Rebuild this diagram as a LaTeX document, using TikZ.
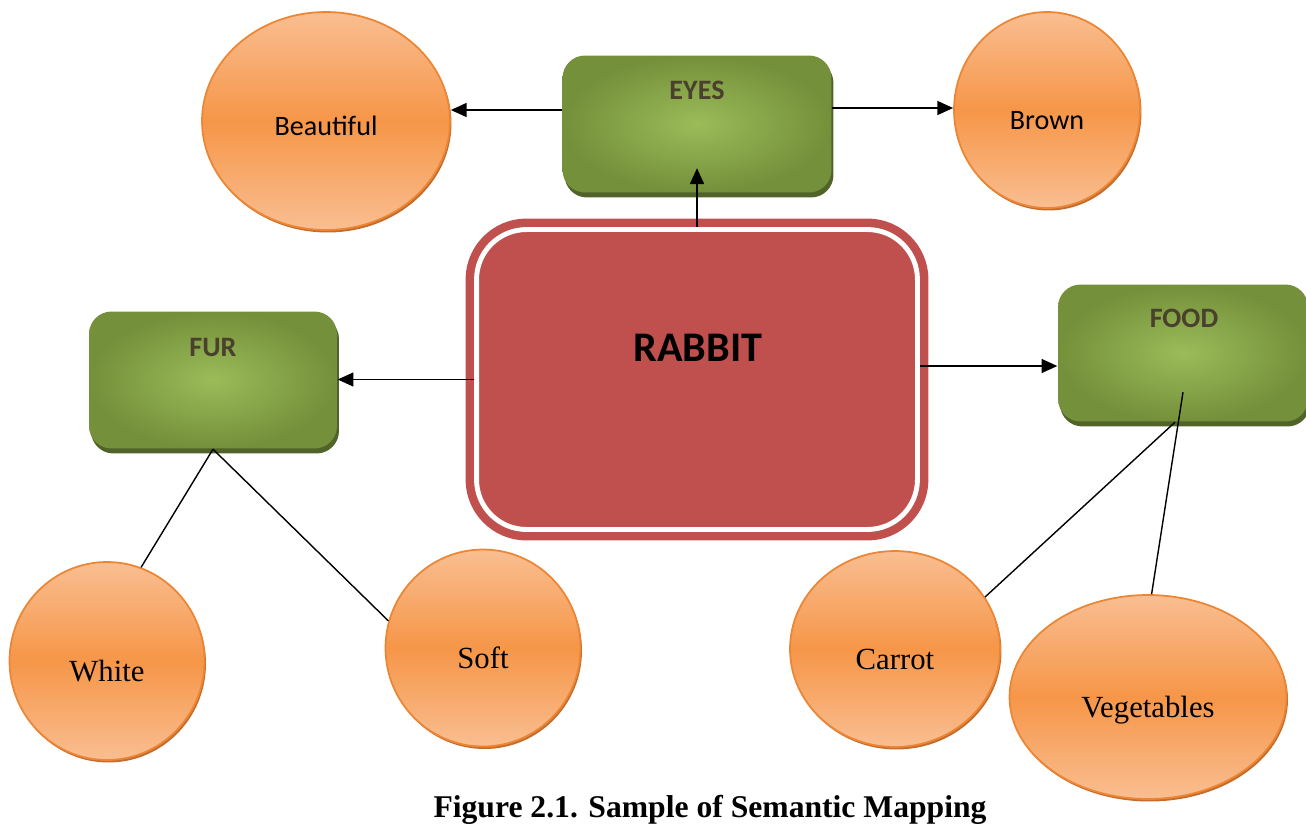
\documentclass[tikz,border=0pt]{standalone}
\usepackage{fontspec}
\setmainfont{Carlito}
\newfontfamily\bookfont{Liberation Serif}
\usetikzlibrary{shapes.geometric,arrows.meta}
\begin{document}
\begin{tikzpicture}[x=.02cm,y=-.02cm,line join=round,line width=.8pt]
	\definecolor{olivelight}{RGB}{155,187,89}
	\definecolor{olivedark}{RGB}{116,144,58}
	\definecolor{oliveshadow}{RGB}{80,99,40}
	\definecolor{olivetext}{RGB}{74,64,46}
	\definecolor{rabbitred}{RGB}{192,80,77}
	\definecolor{peachlight}{RGB}{249,190,145}
	\definecolor{peach}{RGB}{246,150,72}
	\definecolor{peachline}{RGB}{236,134,52}
	\definecolor{peachshadow}{RGB}{196,108,44}
	
	\tikzset{
		greenbox/.style={rectangle,rounded corners=.45cm,minimum width=#1,minimum height=2.74cm,inner sep=0pt,
			inner color=olivelight,outer color=olivedark,
			preaction={fill=oliveshadow,transform canvas={shift={(.04cm,-.1cm)}}}},
		greentext/.style={text=olivetext,font=\fontsize{16}{19}\selectfont\bfseries},
		rabbitbox/.style={rectangle,rounded corners=1cm,minimum width=8.82cm,minimum height=6cm,inner sep=0pt,
			fill=rabbitred,draw=white,line width=2.8pt,
			preaction={draw=rabbitred,line width=12.5pt}},
		ovalnode/.style={ellipse,draw=peachline,line width=1pt,inner sep=0pt,
			top color=peachlight,bottom color=peachlight,middle color=peach,
			preaction={fill=peachshadow,transform canvas={shift={(.03cm,-.05cm)}}},
			text height=22pt,text depth=0pt,font=\fontsize{16}{19}\selectfont},
		bookoval/.style={ovalnode,text height=23.5pt,font=\bookfont\fontsize{17.5}{21}\selectfont},
		link/.style={-{Triangle[length=9pt,width=8pt]}}
	}
	\useasboundingbox (0,0) rectangle (1306,826);
	
	%top row
	\node[ovalnode,text height=16pt,minimum width=4.96cm,minimum height=4.36cm] (beautiful) at (326,121) {Beautiful};
	\node[ovalnode,minimum width=3.72cm,minimum height=3.92cm] (brown) at (1047,110) {Brown};
	\node[greenbox=5.38cm] (eyes) at (697,124) {};
	\node[greentext] (eyeslbl) at (697,90) {EYES};
	
	%middle row
	\node[rabbitbox] (rabbit) at (697,379.5) {};
	\node[font=\fontsize{24}{29}\selectfont\bfseries] (rabbitlbl) at (698,348) {RABBIT};
	\node[greenbox=4.96cm] (fur) at (213,380) {};
	\node[greentext] (furlbl) at (213,347) {FUR};
	\node[greenbox=5cm] (food) at (1183,353) {};
	\node[greentext] (foodlbl) at (1184,318) {FOOD};
	
	%bottom row
	\node[bookoval,minimum width=3.9cm,minimum height=3.96cm] (white) at (107,661) {White};
	\node[bookoval,minimum width=3.9cm,minimum height=3.94cm] (soft) at (483,648) {Soft};
	\node[bookoval,minimum width=4.2cm,minimum height=3.92cm] (carrot) at (895,649) {Carrot};
	\node[bookoval,minimum width=5.54cm,minimum height=4.08cm] (vegetables) at (1148,697) {Vegetables};
	
	\node[font=\bookfont\bfseries\fontsize{18}{22}\selectfont,anchor=base] (caption) at (710,817) {Figure 2.1. Sample of Semantic Mapping};
	
	%connectors
	\coordinate (eyestip) at ([yshift=.5cm]eyes.south);
	\coordinate (foodknot) at ([yshift=.6cm]food.south);
	\draw[link] ([yshift=.28cm]eyes.west) coordinate (eyesleft) -- (eyesleft -| beautiful.east);
	\draw[link] ([yshift=.32cm]eyes.east) coordinate (eyesright) -- (eyesright -| brown.west);
	\draw[link] (rabbit.north) -- (eyestip);
	\draw[link] (rabbit.west) -- (rabbit.west -| fur.east);
	\draw[link] ([yshift=.27cm]rabbit.east) coordinate (rabbitright) -- (rabbitright -| food.west);
	\draw (fur.south) -- (white.70);
	\draw (fur.south) -- (soft.164);
	\draw (foodknot) -- (vegetables.88);
	\draw ([xshift=-.16cm]food.south) -- (carrot.30);
\end{tikzpicture}
\end{document}
